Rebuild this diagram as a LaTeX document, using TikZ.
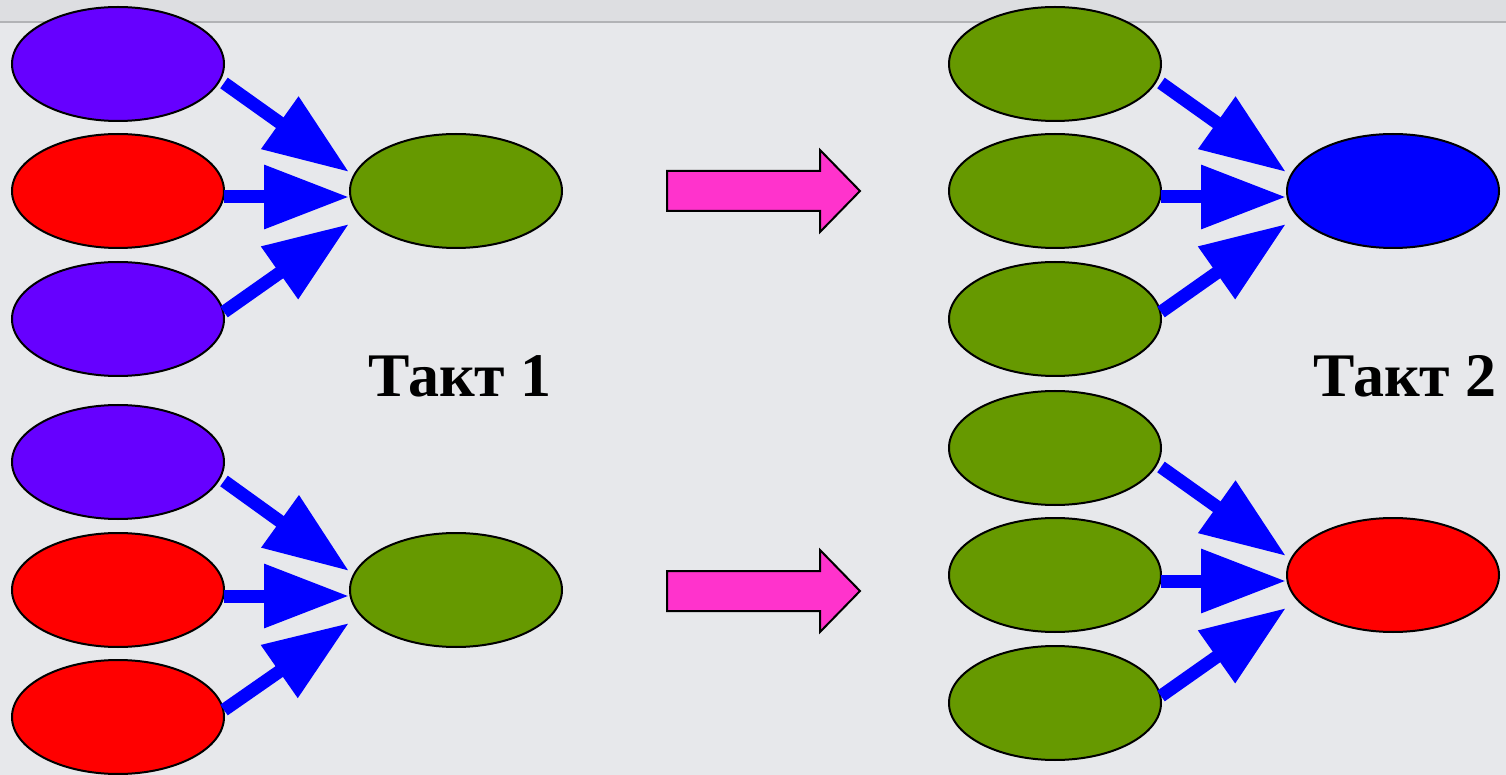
\documentclass[tikz,border=0pt]{standalone}
\usepackage{fontspec}
\setmainfont{Liberation Serif}
\usetikzlibrary{arrows.meta,shapes.geometric}
\definecolor{bg}{HTML}{E7E8EB}
\definecolor{bgtop}{HTML}{DDDEE1}
\definecolor{rule}{HTML}{B2B3B6}
\definecolor{violet}{HTML}{6600FF}
\definecolor{leaf}{HTML}{669900}
\definecolor{pureblue}{HTML}{0000FF}
\definecolor{purered}{HTML}{FF0000}
\definecolor{pink}{HTML}{FF33CC}
\begin{document}
\begin{tikzpicture}[x=0.5pt,y=-0.5pt,
  oval/.style={ellipse, draw=black, line width=1pt, minimum width=106pt, minimum height=57pt, inner sep=0pt},
  barrow/.style={draw=pureblue, line width=6.5pt, -{Triangle[length=42.5pt,width=30.5pt]}},
  pinkarrow/.style={fill=pink, draw=black, line width=1pt, line join=miter},
  label/.style={font=\bfseries\fontsize{31pt}{37pt}\selectfont, anchor=base, inner sep=0pt},
  pics/blockarrow/.style={code={
    \draw[pinkarrow] (0,-20) -- (153,-20) -- (153,-41) -- (193,0) -- (153,41) -- (153,20) -- (0,20) -- cycle;}}]
\useasboundingbox (0,0) rectangle (1506,775);
\fill[bg] (0,0) rectangle (1506,775);
\fill[bgtop] (0,0) rectangle (1506,22);
\draw[rule, line width=1.2pt] (0,22) -- (1506,22);

% left, upper group
\node[oval, fill=violet] (l1a) at (118,64) {};
\node[oval, fill=purered] (l1b) at (118,191) {};
\node[oval, fill=violet] (l1c) at (118,319) {};
\node[oval, fill=leaf] (l1t) at (456,191) {};
% left, lower group
\node[oval, fill=violet] (l2a) at (118,462) {};
\node[oval, fill=purered] (l2b) at (118,590) {};
\node[oval, fill=purered] (l2c) at (118,717) {};
\node[oval, fill=leaf] (l2t) at (456,590) {};
% right, upper group
\node[oval, fill=leaf] (r1a) at (1055,64) {};
\node[oval, fill=leaf] (r1b) at (1055,191) {};
\node[oval, fill=leaf] (r1c) at (1055,319) {};
\node[oval, fill=pureblue] (r1t) at (1393,191) {};
% right, lower group
\node[oval, fill=leaf] (r2a) at (1055,448) {};
\node[oval, fill=leaf] (r2b) at (1055,575) {};
\node[oval, fill=leaf] (r2c) at (1055,703) {};
\node[oval, fill=purered] (r2t) at (1393,575) {};

% blue arrows
\foreach \g in {l1,l2,r1,r2}{
  \draw[barrow] ([shift={(106,19)}]\g a.center) -- ([shift={(-107,-19)}]\g t.center);
  \draw[barrow] ([shift={(106,6)}]\g b.center) -- ([shift={(-107,6)}]\g t.center);
  \draw[barrow] ([shift={(106,-7)}]\g c.center) -- ([shift={(-107,33)}]\g t.center);
}

% pink block arrows
\pic at (667,191) {blockarrow};
\pic at (667,591) {blockarrow};

% labels
\node[label] (t1) at (460,397) {Такт 1};
\node[label] (t2) at (1405,397) {Такт 2};
\end{tikzpicture}
\end{document}
